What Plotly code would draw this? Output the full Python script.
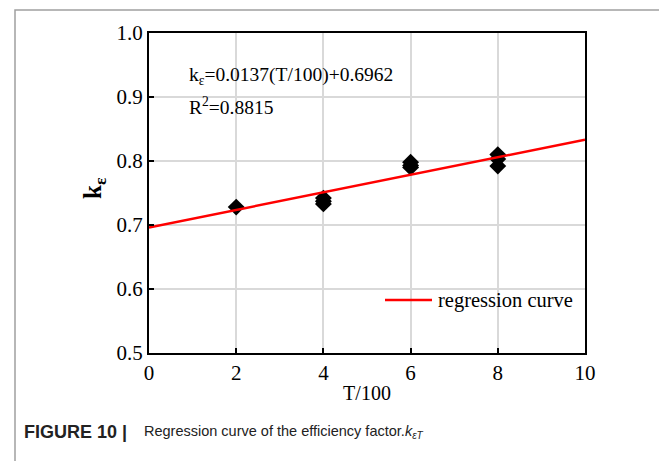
import plotly.graph_objects as go

# data
temp_x = [2, 4, 4, 4, 6, 6, 6, 8, 8, 8]
k_eps = [0.728, 0.742, 0.737, 0.733, 0.798, 0.793, 0.790, 0.810, 0.803, 0.792]
slope = 0.0137
intercept = 0.6962
line_x = [0, 10]
line_y = [intercept + slope * v for v in line_x]
x_ticks = [0, 2, 4, 6, 8, 10]
y_ticks = [0.5, 0.6, 0.7, 0.8, 0.9, 1.0]
legend_label = "regression curve"

serif = "Liberation Serif, Times New Roman, serif"
sans = "Liberation Sans, Arial, sans-serif"

OFF = 8  # page body margin
fig = go.Figure()
fig.add_trace(go.Scatter(x=temp_x, y=k_eps, mode="markers",
                         marker=dict(symbol="diamond", size=13, color="black"),
                         showlegend=False))
fig.add_trace(go.Scatter(x=line_x, y=line_y, mode="lines",
                         line=dict(color="#ff0000", width=2.5),
                         name=legend_label, showlegend=False))

axis_common = dict(showline=True, linecolor="black", linewidth=2, mirror=True,
                   ticks="inside", ticklen=5, tickwidth=1.5, tickcolor="black",
                   showgrid=True, gridcolor="#d9d9d9", gridwidth=1.5,
                   zeroline=False, tickfont=dict(family=serif, size=21, color="black"))

fig.update_xaxes(range=[0, 10], tickvals=x_ticks, ticktext=[str(v) for v in x_ticks],
                 title=dict(text="T/100", font=dict(family=serif, size=20, color="black"), standoff=2),
                 **axis_common)
fig.update_yaxes(range=[0.5, 1.0], tickvals=y_ticks, ticktext=[f"{v:.1f}" for v in y_ticks],
                 **axis_common)

W, H = 667 - OFF, 461 - OFF
L, T = 149 - OFF, 33 - OFF
pw, ph = 436, 320
R = W - L - pw
B = H - T - ph

def px(xpix):
    return (xpix - OFF - L) / pw

def py(ypix):
    return (T + ph - (ypix - OFF)) / ph

fig.update_layout(
    width=W, height=H,
    margin=dict(l=L, r=R, t=T, b=B),
    plot_bgcolor="white", paper_bgcolor="white",
    annotations=[
        dict(text="k<sub>ε</sub>=0.0137(T/100)+0.6962", x=px(187), y=py(76),
             xref="paper", yref="paper", xanchor="left", yanchor="middle",
             showarrow=False, font=dict(family=serif, size=19.5, color="black")),
        dict(text="R<sup>2</sup>=0.8815", x=px(187), y=py(106),
             xref="paper", yref="paper", xanchor="left", yanchor="middle",
             showarrow=False, font=dict(family=serif, size=19.5, color="black")),
        dict(text="<b>k<sub>ε</sub></b>", x=px(94), y=py(188), textangle=-90,
             xref="paper", yref="paper", xanchor="center", yanchor="middle",
             showarrow=False, font=dict(family=serif, size=25, color="black")),
        dict(text=legend_label, x=px(436), y=py(300),
             xref="paper", yref="paper", xanchor="left", yanchor="middle",
             showarrow=False, font=dict(family=serif, size=20.5, color="black")),
        dict(text="<b>FIGURE 10 |</b>",
             x=px(22), y=py(432), xref="paper", yref="paper", xanchor="left", yanchor="middle",
             showarrow=False, font=dict(family=sans, size=18, color="#222222")),
        dict(text="Regression curve of the efficiency factor.<i>k<sub>εT</sub></i>",
             x=px(142), y=py(432), xref="paper", yref="paper", xanchor="left", yanchor="middle",
             showarrow=False, font=dict(family=sans, size=14.5, color="#222222")),
    ],
    shapes=[
        dict(type="rect", xref="paper", yref="paper",
             x0=px(15), x1=px(664), y0=py(480), y1=py(10),
             line=dict(color="#a0a0a0", width=1.5), fillcolor="rgba(0,0,0,0)", layer="below"),
        dict(type="line", xref="paper", yref="paper",
             x0=px(385), x1=px(432), y0=py(300), y1=py(300),
             line=dict(color="#ff0000", width=2.5)),
    ],
)

fig.write_html("out.html")
